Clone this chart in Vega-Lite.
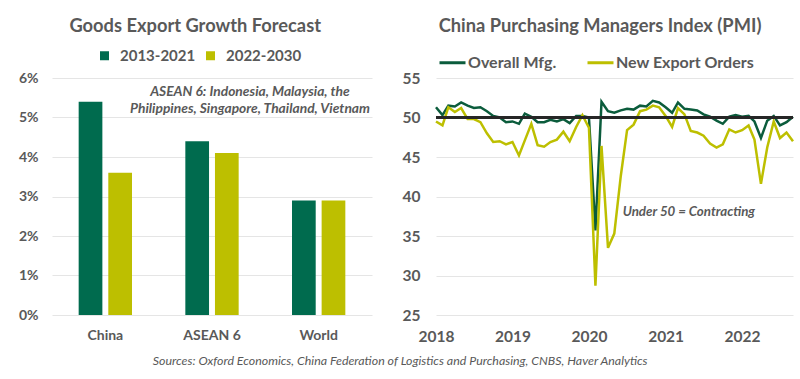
{
  "$schema": "https://vega.github.io/schema/vega-lite/v6.json",
  "background": "white",
  "padding": {"left": 18, "top": 16, "right": 5, "bottom": 4},
  "config": {"font": "Lato", "view": {"stroke": null}, "axis": {"labelOverlap": false}},
  "title": {"text": "Sources: Oxford Economics,  China Federation of Logistics and Purchasing, CNBS, Haver Analytics", "orient": "bottom", "anchor": "middle", "fontSize": 12.4, "fontStyle": "italic", "fontWeight": "normal", "color": "#595959", "offset": 10, "dx": -8},
  "spacing": 30,
  "resolve": {"scale": {"color": "independent"}, "legend": {"color": "independent"}},
  "hconcat": [
    {
      "width": 320,
      "height": 237,
      "title": {"text": "Goods Export Growth Forecast", "fontSize": 18.3, "fontWeight": "bold", "color": "#595959", "anchor": "middle", "frame": "bounds", "offset": 12},
      "layer": [
        {
          "data": {"values": [
            {"region": "China", "period": "2013-2021", "growth": 0.054},
            {"region": "China", "period": "2022-2030", "growth": 0.036},
            {"region": "ASEAN 6", "period": "2013-2021", "growth": 0.044},
            {"region": "ASEAN 6", "period": "2022-2030", "growth": 0.041},
            {"region": "World", "period": "2013-2021", "growth": 0.029},
            {"region": "World", "period": "2022-2030", "growth": 0.029}
          ]},
          "mark": {"type": "bar"},
          "encoding": {
            "x": {"field": "region", "type": "nominal", "sort": ["China", "ASEAN 6", "World"], "scale": {"paddingInner": 0.5, "paddingOuter": 0.25}, "axis": {"title": null, "labelAngle": 0, "domain": false, "ticks": false, "labelPadding": 13, "labelFontSize": 14, "labelFontWeight": "bold", "labelColor": "#595959"}},
            "xOffset": {"field": "period", "type": "nominal", "sort": ["2013-2021", "2022-2030"], "scale": {"paddingInner": 0.2, "paddingOuter": 0}},
            "y": {"field": "growth", "type": "quantitative", "scale": {"domain": [0, 0.06]}, "axis": {"title": null, "format": ".0%", "values": [0, 0.01, 0.02, 0.03, 0.04, 0.05, 0.06], "tickCount": 10, "labelOverlap": false, "domain": false, "ticks": false, "labelPadding": 14, "gridColor": "#E5E5E5", "labelFontSize": 14, "labelFontWeight": "bold", "labelColor": "#595959"}},
            "color": {"field": "period", "type": "nominal", "scale": {"domain": ["2013-2021", "2022-2030"], "range": ["#006B4E", "#BDBF00"]}, "legend": {"orient": "none", "legendX": 45, "legendY": -30, "direction": "horizontal", "title": null, "symbolType": "square", "symbolSize": 81, "symbolStrokeWidth": 0, "labelFontSize": 15, "labelFontWeight": "bold", "labelColor": "#595959", "columnPadding": 7, "labelOffset": 8}}
          }
        },
        {
          "data": {"values": [{}]},
          "mark": {"type": "text", "lineBreak": "\n", "fontStyle": "italic", "fontWeight": "bold", "fontSize": 13.8, "color": "#595959", "dx": 38, "align": "center", "baseline": "middle", "lineHeight": 17},
          "encoding": {
            "x": {"datum": "ASEAN 6"},
            "y": {"datum": 0.0564},
            "text": {"value": "ASEAN 6: Indonesia, Malaysia, the\nPhilippines, Singapore, Thailand, Vietnam"}
          }
        }
      ]
    },
    {
      "width": 357,
      "height": 237,
      "title": {"text": "China Purchasing Managers Index (PMI)", "fontSize": 18.3, "fontWeight": "bold", "color": "#595959", "anchor": "middle", "frame": "bounds", "offset": 12},
      "layer": [
        {
          "data": {"values": [
            {"date": "2018/01/01", "series": "Overall Mfg.", "pmi": 51.3},
            {"date": "2018/02/01", "series": "Overall Mfg.", "pmi": 50.3},
            {"date": "2018/03/01", "series": "Overall Mfg.", "pmi": 51.5},
            {"date": "2018/04/01", "series": "Overall Mfg.", "pmi": 51.4},
            {"date": "2018/05/01", "series": "Overall Mfg.", "pmi": 51.9},
            {"date": "2018/06/01", "series": "Overall Mfg.", "pmi": 51.5},
            {"date": "2018/07/01", "series": "Overall Mfg.", "pmi": 51.2},
            {"date": "2018/08/01", "series": "Overall Mfg.", "pmi": 51.3},
            {"date": "2018/09/01", "series": "Overall Mfg.", "pmi": 50.8},
            {"date": "2018/10/01", "series": "Overall Mfg.", "pmi": 50.2},
            {"date": "2018/11/01", "series": "Overall Mfg.", "pmi": 50.0},
            {"date": "2018/12/01", "series": "Overall Mfg.", "pmi": 49.4},
            {"date": "2019/01/01", "series": "Overall Mfg.", "pmi": 49.5},
            {"date": "2019/02/01", "series": "Overall Mfg.", "pmi": 49.2},
            {"date": "2019/03/01", "series": "Overall Mfg.", "pmi": 50.5},
            {"date": "2019/04/01", "series": "Overall Mfg.", "pmi": 50.1},
            {"date": "2019/05/01", "series": "Overall Mfg.", "pmi": 49.4},
            {"date": "2019/06/01", "series": "Overall Mfg.", "pmi": 49.4},
            {"date": "2019/07/01", "series": "Overall Mfg.", "pmi": 49.7},
            {"date": "2019/08/01", "series": "Overall Mfg.", "pmi": 49.5},
            {"date": "2019/09/01", "series": "Overall Mfg.", "pmi": 49.8},
            {"date": "2019/10/01", "series": "Overall Mfg.", "pmi": 49.3},
            {"date": "2019/11/01", "series": "Overall Mfg.", "pmi": 50.2},
            {"date": "2019/12/01", "series": "Overall Mfg.", "pmi": 50.2},
            {"date": "2020/01/01", "series": "Overall Mfg.", "pmi": 50.0},
            {"date": "2020/02/01", "series": "Overall Mfg.", "pmi": 35.7},
            {"date": "2020/03/01", "series": "Overall Mfg.", "pmi": 52.0},
            {"date": "2020/04/01", "series": "Overall Mfg.", "pmi": 50.8},
            {"date": "2020/05/01", "series": "Overall Mfg.", "pmi": 50.6},
            {"date": "2020/06/01", "series": "Overall Mfg.", "pmi": 50.9},
            {"date": "2020/07/01", "series": "Overall Mfg.", "pmi": 51.1},
            {"date": "2020/08/01", "series": "Overall Mfg.", "pmi": 51.0},
            {"date": "2020/09/01", "series": "Overall Mfg.", "pmi": 51.5},
            {"date": "2020/10/01", "series": "Overall Mfg.", "pmi": 51.4},
            {"date": "2020/11/01", "series": "Overall Mfg.", "pmi": 52.1},
            {"date": "2020/12/01", "series": "Overall Mfg.", "pmi": 51.9},
            {"date": "2021/01/01", "series": "Overall Mfg.", "pmi": 51.3},
            {"date": "2021/02/01", "series": "Overall Mfg.", "pmi": 50.6},
            {"date": "2021/03/01", "series": "Overall Mfg.", "pmi": 51.9},
            {"date": "2021/04/01", "series": "Overall Mfg.", "pmi": 51.1},
            {"date": "2021/05/01", "series": "Overall Mfg.", "pmi": 51.0},
            {"date": "2021/06/01", "series": "Overall Mfg.", "pmi": 50.9},
            {"date": "2021/07/01", "series": "Overall Mfg.", "pmi": 50.4},
            {"date": "2021/08/01", "series": "Overall Mfg.", "pmi": 50.1},
            {"date": "2021/09/01", "series": "Overall Mfg.", "pmi": 49.6},
            {"date": "2021/10/01", "series": "Overall Mfg.", "pmi": 49.2},
            {"date": "2021/11/01", "series": "Overall Mfg.", "pmi": 50.1},
            {"date": "2021/12/01", "series": "Overall Mfg.", "pmi": 50.3},
            {"date": "2022/01/01", "series": "Overall Mfg.", "pmi": 50.1},
            {"date": "2022/02/01", "series": "Overall Mfg.", "pmi": 50.2},
            {"date": "2022/03/01", "series": "Overall Mfg.", "pmi": 49.5},
            {"date": "2022/04/01", "series": "Overall Mfg.", "pmi": 47.4},
            {"date": "2022/05/01", "series": "Overall Mfg.", "pmi": 49.6},
            {"date": "2022/06/01", "series": "Overall Mfg.", "pmi": 50.2},
            {"date": "2022/07/01", "series": "Overall Mfg.", "pmi": 49.0},
            {"date": "2022/08/01", "series": "Overall Mfg.", "pmi": 49.4},
            {"date": "2022/09/01", "series": "Overall Mfg.", "pmi": 50.1},
            {"date": "2018/01/01", "series": "New Export Orders", "pmi": 49.5},
            {"date": "2018/02/01", "series": "New Export Orders", "pmi": 49.0},
            {"date": "2018/03/01", "series": "New Export Orders", "pmi": 51.3},
            {"date": "2018/04/01", "series": "New Export Orders", "pmi": 50.7},
            {"date": "2018/05/01", "series": "New Export Orders", "pmi": 51.2},
            {"date": "2018/06/01", "series": "New Export Orders", "pmi": 49.8},
            {"date": "2018/07/01", "series": "New Export Orders", "pmi": 49.8},
            {"date": "2018/08/01", "series": "New Export Orders", "pmi": 49.4},
            {"date": "2018/09/01", "series": "New Export Orders", "pmi": 48.0},
            {"date": "2018/10/01", "series": "New Export Orders", "pmi": 46.9},
            {"date": "2018/11/01", "series": "New Export Orders", "pmi": 47.0},
            {"date": "2018/12/01", "series": "New Export Orders", "pmi": 46.6},
            {"date": "2019/01/01", "series": "New Export Orders", "pmi": 46.9},
            {"date": "2019/02/01", "series": "New Export Orders", "pmi": 45.2},
            {"date": "2019/03/01", "series": "New Export Orders", "pmi": 47.1},
            {"date": "2019/04/01", "series": "New Export Orders", "pmi": 49.2},
            {"date": "2019/05/01", "series": "New Export Orders", "pmi": 46.5},
            {"date": "2019/06/01", "series": "New Export Orders", "pmi": 46.3},
            {"date": "2019/07/01", "series": "New Export Orders", "pmi": 46.9},
            {"date": "2019/08/01", "series": "New Export Orders", "pmi": 47.2},
            {"date": "2019/09/01", "series": "New Export Orders", "pmi": 48.2},
            {"date": "2019/10/01", "series": "New Export Orders", "pmi": 47.0},
            {"date": "2019/11/01", "series": "New Export Orders", "pmi": 48.8},
            {"date": "2019/12/01", "series": "New Export Orders", "pmi": 50.3},
            {"date": "2020/01/01", "series": "New Export Orders", "pmi": 48.7},
            {"date": "2020/02/01", "series": "New Export Orders", "pmi": 28.7},
            {"date": "2020/03/01", "series": "New Export Orders", "pmi": 46.4},
            {"date": "2020/04/01", "series": "New Export Orders", "pmi": 33.5},
            {"date": "2020/05/01", "series": "New Export Orders", "pmi": 35.3},
            {"date": "2020/06/01", "series": "New Export Orders", "pmi": 42.6},
            {"date": "2020/07/01", "series": "New Export Orders", "pmi": 48.4},
            {"date": "2020/08/01", "series": "New Export Orders", "pmi": 49.1},
            {"date": "2020/09/01", "series": "New Export Orders", "pmi": 50.8},
            {"date": "2020/10/01", "series": "New Export Orders", "pmi": 51.0},
            {"date": "2020/11/01", "series": "New Export Orders", "pmi": 51.5},
            {"date": "2020/12/01", "series": "New Export Orders", "pmi": 51.3},
            {"date": "2021/01/01", "series": "New Export Orders", "pmi": 50.2},
            {"date": "2021/02/01", "series": "New Export Orders", "pmi": 48.8},
            {"date": "2021/03/01", "series": "New Export Orders", "pmi": 51.2},
            {"date": "2021/04/01", "series": "New Export Orders", "pmi": 50.4},
            {"date": "2021/05/01", "series": "New Export Orders", "pmi": 48.3},
            {"date": "2021/06/01", "series": "New Export Orders", "pmi": 48.1},
            {"date": "2021/07/01", "series": "New Export Orders", "pmi": 47.7},
            {"date": "2021/08/01", "series": "New Export Orders", "pmi": 46.7},
            {"date": "2021/09/01", "series": "New Export Orders", "pmi": 46.2},
            {"date": "2021/10/01", "series": "New Export Orders", "pmi": 46.6},
            {"date": "2021/11/01", "series": "New Export Orders", "pmi": 48.5},
            {"date": "2021/12/01", "series": "New Export Orders", "pmi": 48.1},
            {"date": "2022/01/01", "series": "New Export Orders", "pmi": 48.4},
            {"date": "2022/02/01", "series": "New Export Orders", "pmi": 49.0},
            {"date": "2022/03/01", "series": "New Export Orders", "pmi": 47.2},
            {"date": "2022/04/01", "series": "New Export Orders", "pmi": 41.6},
            {"date": "2022/05/01", "series": "New Export Orders", "pmi": 46.2},
            {"date": "2022/06/01", "series": "New Export Orders", "pmi": 49.5},
            {"date": "2022/07/01", "series": "New Export Orders", "pmi": 47.4},
            {"date": "2022/08/01", "series": "New Export Orders", "pmi": 48.1},
            {"date": "2022/09/01", "series": "New Export Orders", "pmi": 47.0}
          ]},
          "mark": {"type": "line", "strokeWidth": 2.5},
          "encoding": {
            "x": {"field": "date", "type": "temporal", "scale": {"nice": false}, "axis": {"title": null, "format": "%Y", "tickCount": {"interval": "year", "step": 1}, "grid": false, "domain": false, "ticks": false, "labelPadding": 14, "labelFontSize": 15.5, "labelFontWeight": "bold", "labelColor": "#595959", "labelFlush": false, "labelOverlap": false}},
            "y": {"field": "pmi", "type": "quantitative", "scale": {"domain": [25, 55], "zero": false, "nice": false}, "axis": {"title": null, "values": [25, 30, 35, 40, 45, 50, 55], "tickCount": 10, "labelOverlap": false, "domain": false, "ticks": false, "labelPadding": 16, "gridColor": "#E5E5E5", "labelFontSize": 15.5, "labelFontWeight": "bold", "labelColor": "#595959"}},
            "color": {"field": "series", "type": "nominal", "scale": {"domain": ["Overall Mfg.", "New Export Orders"], "range": ["#0B5C3C", "#BDBF00"]}, "legend": {"orient": "none", "legendX": 2, "legendY": -30, "direction": "horizontal", "title": null, "symbolType": "stroke", "symbolSize": 676, "symbolStrokeWidth": 3, "labelFontSize": 16, "labelFontWeight": "bold", "labelColor": "#595959", "columnPadding": 24, "labelOffset": 1}}
          }
        },
        {
          "data": {"values": [{}]},
          "mark": {"type": "rule", "color": "#262626", "strokeWidth": 3},
          "encoding": {"y": {"datum": 50}}
        },
        {
          "data": {"values": [{}]},
          "mark": {"type": "text", "fontStyle": "italic", "fontWeight": "bold", "fontSize": 13.3, "color": "#595959", "align": "left", "baseline": "middle"},
          "encoding": {
            "x": {"datum": {"year": 2020, "month": 6, "date": 10}, "type": "temporal"},
            "y": {"datum": 38.1},
            "text": {"value": "Under 50 = Contracting"}
          }
        }
      ]
    }
  ]
}
